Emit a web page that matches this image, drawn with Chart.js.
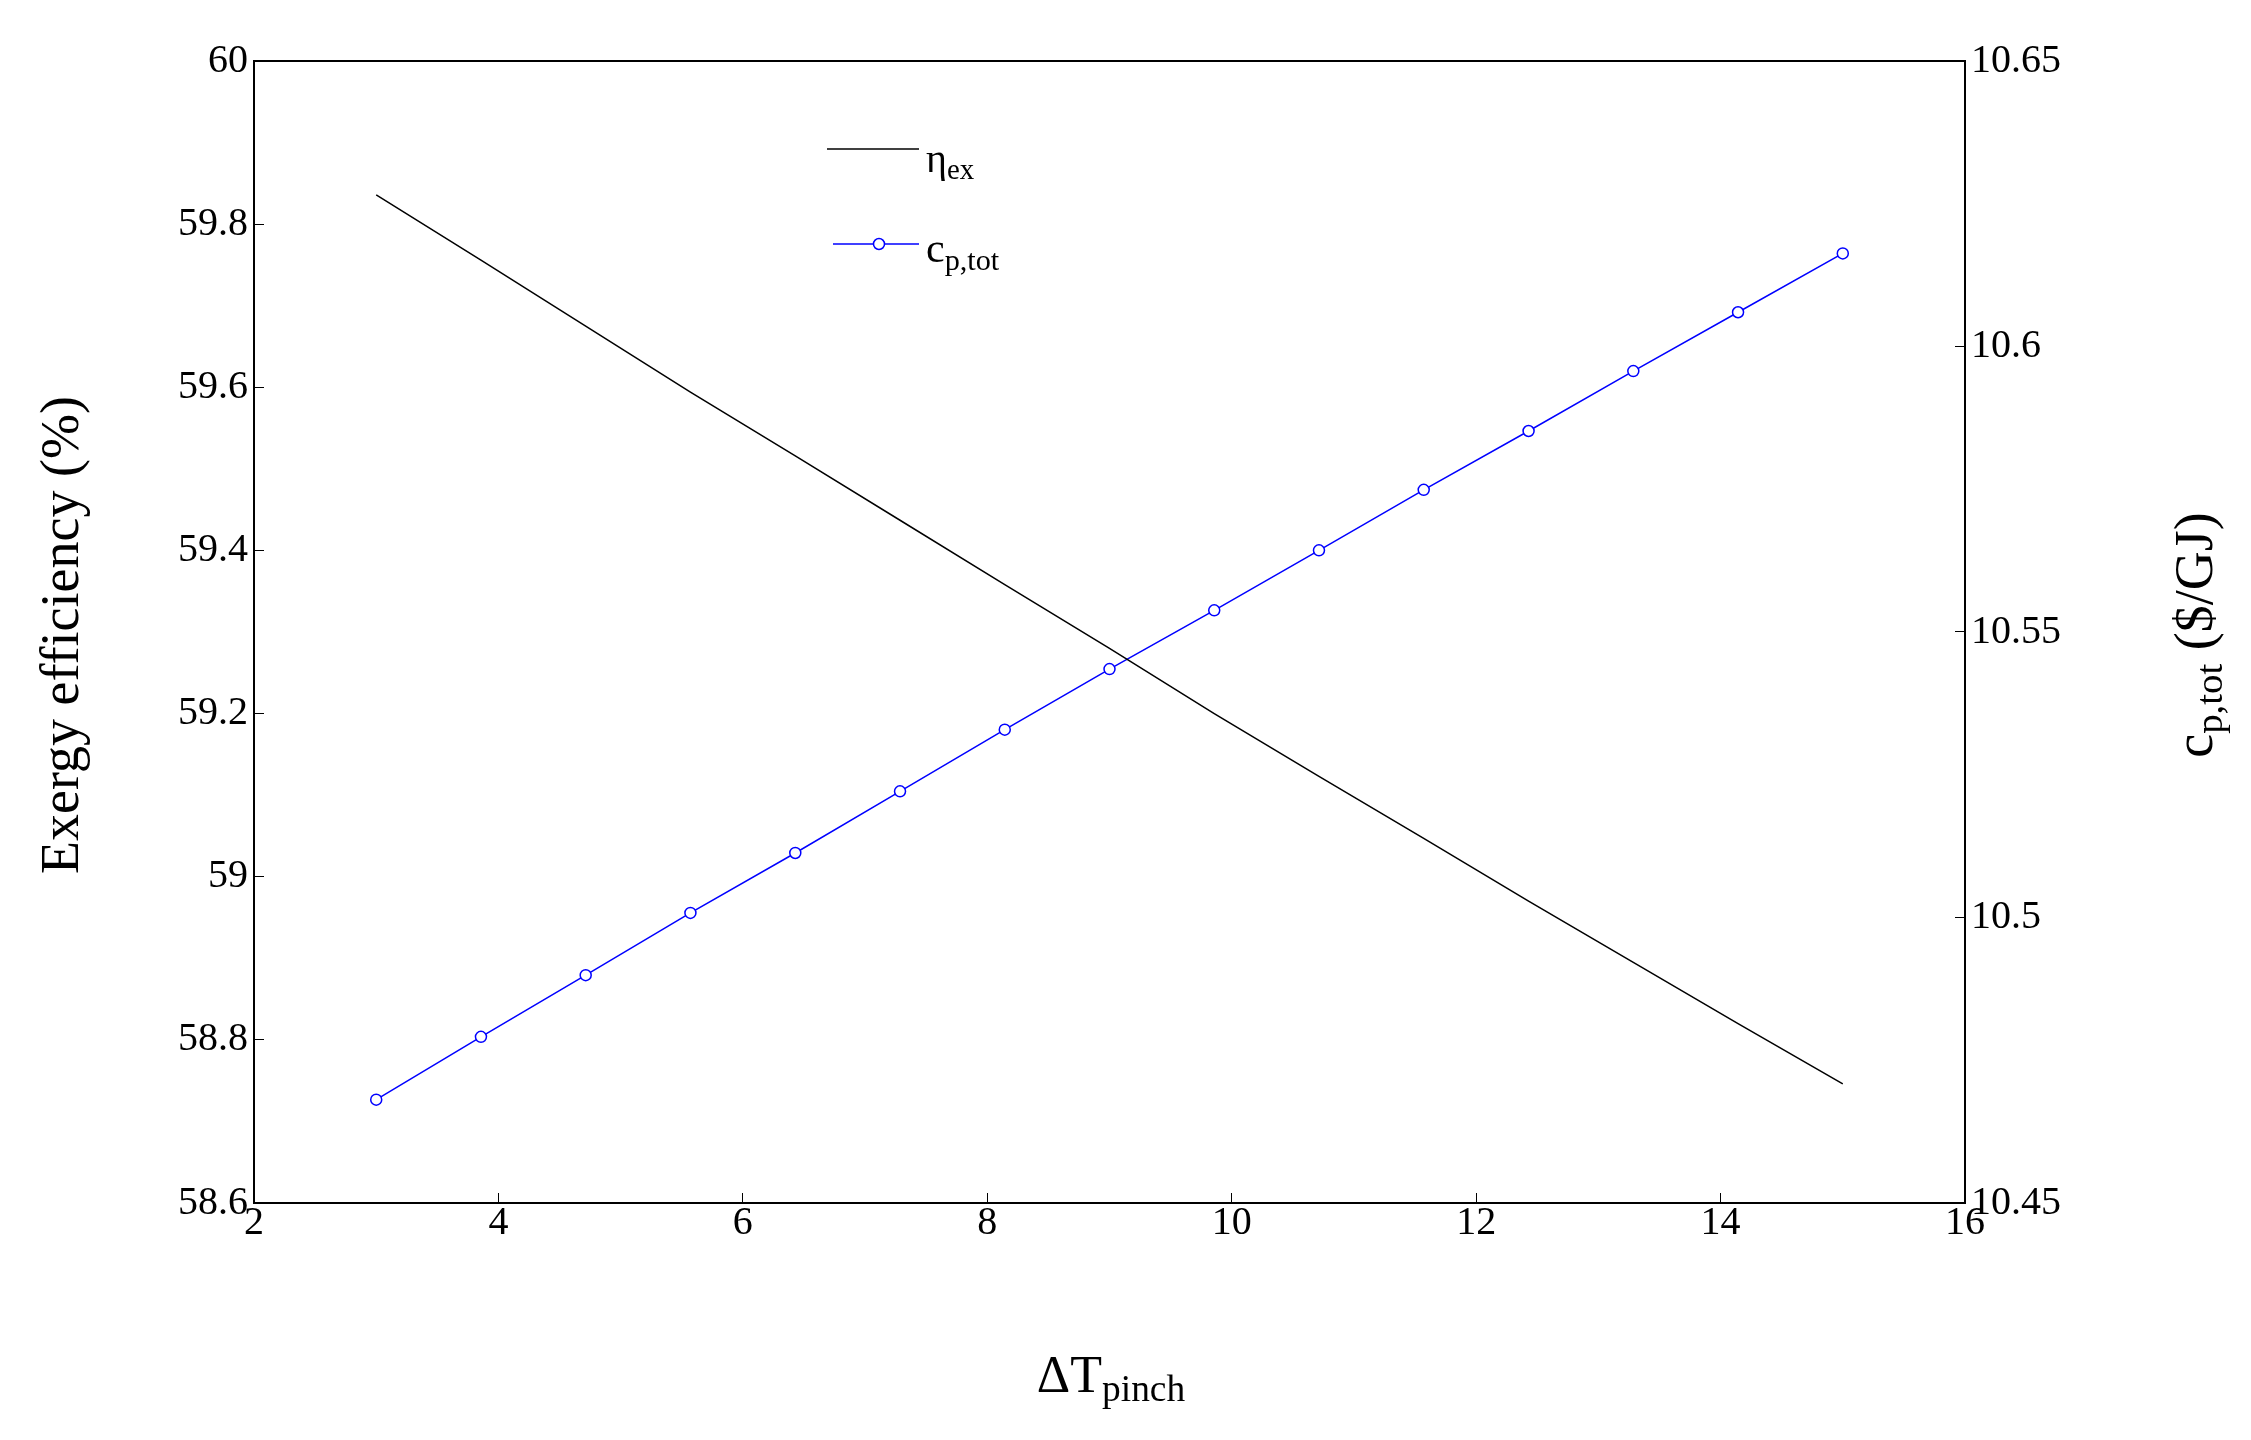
<!DOCTYPE html>
<html>
<head>
<meta charset="utf-8">
<script src="https://cdn.jsdelivr.net/npm/chart.js@4/dist/chart.umd.min.js"></script>
<style>
  html, body { margin: 0; padding: 0; background: #fff; }
  #wrap { width: 2251px; height: 1440px; }
</style>
</head>
<body>
<div id="wrap"><canvas id="c"></canvas></div>
<script>
// data
const dT = [3, 3.857, 4.714, 5.571, 6.429, 7.286, 8.143, 9, 9.857, 10.714, 11.571, 12.429, 13.286, 14.143, 15];
const etaEx = [59.836, 59.756, 59.675, 59.594, 59.516, 59.437, 59.358, 59.280, 59.200, 59.123, 59.047, 58.970, 58.895, 58.820, 58.746];
const cpTot = [10.4681, 10.4791, 10.4899, 10.5008, 10.5113, 10.5221, 10.5329, 10.5435, 10.5538, 10.5643, 10.5749, 10.5852, 10.5957, 10.6060, 10.6163];

const SERIF = "'Liberation Serif', 'DejaVu Serif', serif";

// text with a subscript part, drawn left-to-right from x
function subText(ctx, x, y, main, sub, size, align) {
    ctx.font = `${size}px ${SERIF}`;
    const w1 = ctx.measureText(main).width;
    ctx.font = `${size * 0.72}px ${SERIF}`;
    const w2 = ctx.measureText(sub).width;
    let start = x;
    if (align === "center") start = x - (w1 + w2) / 2;
    ctx.textAlign = "left";
    ctx.textBaseline = "alphabetic";
    ctx.font = `${size}px ${SERIF}`;
    ctx.fillText(main, start, y);
    ctx.font = `${size * 0.72}px ${SERIF}`;
    ctx.fillText(sub, start + w1, y + size * 0.18);
    return w1 + w2;
}

const decor = {
    id: "decor",
    afterDraw(chart) {
        const { ctx, chartArea: a } = chart;
        ctx.save();
        ctx.strokeStyle = "#000";
        ctx.lineWidth = 2;
        ctx.strokeRect(a.left, a.top, a.right - a.left, a.bottom - a.top);
        ctx.fillStyle = "#000";

        // axis titles
        subText(ctx, 1111, 1392, "ΔT", "pinch", 52, "center");

        ctx.save();
        ctx.translate(78, 635);
        ctx.rotate(-Math.PI / 2);
        ctx.font = `54px ${SERIF}`;
        ctx.textAlign = "center";
        ctx.fillText("Exergy efficiency (%)", 0, 0);
        ctx.restore();

        ctx.save();
        ctx.translate(2212, 635);
        ctx.rotate(-Math.PI / 2);
        const parts = ["c", "p,tot", " ($/GJ)"];
        ctx.font = `54px ${SERIF}`; const w1 = ctx.measureText(parts[0]).width;
        ctx.font = `${54 * 0.72}px ${SERIF}`; const w2 = ctx.measureText(parts[1]).width;
        ctx.font = `54px ${SERIF}`; const w3 = ctx.measureText(parts[2]).width;
        let sx = -(w1 + w2 + w3) / 2;
        ctx.textAlign = "left";
        ctx.fillText(parts[0], sx, 0);
        ctx.font = `${54 * 0.72}px ${SERIF}`;
        ctx.fillText(parts[1], sx + w1, 10);
        ctx.font = `54px ${SERIF}`;
        ctx.fillText(parts[2], sx + w1 + w2, 0);
        ctx.restore();

        // legend
        ctx.lineWidth = 1.5;
        ctx.strokeStyle = "#000";
        ctx.beginPath(); ctx.moveTo(827, 149); ctx.lineTo(919, 149); ctx.stroke();
        subText(ctx, 926, 172, "η", "ex", 40);
        ctx.strokeStyle = "#0000ff";
        ctx.beginPath(); ctx.moveTo(833, 244); ctx.lineTo(919, 244); ctx.stroke();
        ctx.fillStyle = "#fff";
        ctx.beginPath(); ctx.arc(879, 244, 5.5, 0, Math.PI * 2); ctx.fill(); ctx.stroke();
        ctx.fillStyle = "#000";
        subText(ctx, 926, 262, "c", "p,tot", 42);
        ctx.restore();
    }
};

const tickFont = { family: SERIF, size: 40 };

new Chart(document.getElementById("c"), {
    type: "line",
    data: {
        labels: dT,
        datasets: [
            {
                label: "ηex",
                data: dT.map((x, i) => ({ x, y: etaEx[i] })),
                yAxisID: "y",
                borderColor: "#000",
                borderWidth: 1.5,
                pointRadius: 0,
                tension: 0,
            },
            {
                label: "cp,tot",
                data: dT.map((x, i) => ({ x, y: cpTot[i] })),
                yAxisID: "y2",
                borderColor: "#0000ff",
                borderWidth: 1.5,
                pointRadius: 5.5,
                pointBorderWidth: 1.5,
                pointBackgroundColor: "#fff",
                pointBorderColor: "#0000ff",
                tension: 0,
            }
        ]
    },
    options: {
        responsive: true, maintainAspectRatio: false, animation: false,
        layout: { padding: { top: 61, left: 0, right: 0, bottom: 0 } },
        plugins: { legend: { display: false }, tooltip: { enabled: false } },
        scales: {
            x: {
                type: "linear", min: 2, max: 16,
                ticks: { stepSize: 2, color: "#000", font: tickFont, padding: 6 },
                grid: { drawOnChartArea: false, tickLength: -10, color: "#000" },
                border: { display: false },
                afterFit: s => { s.height = 237; }
            },
            y: {
                position: "left", min: 58.6, max: 60,
                ticks: { stepSize: 0.2, color: "#000", font: tickFont, padding: 16,
                    callback: v => +v.toFixed(1) + "" },
                grid: { drawOnChartArea: false, tickLength: -10, color: "#000" },
                border: { display: false },
                afterFit: s => { s.width = 254; }
            },
            y2: {
                position: "right", min: 10.45, max: 10.65,
                ticks: { stepSize: 0.05, color: "#000", font: tickFont, padding: 16,
                    callback: v => +v.toFixed(2) + "" },
                grid: { drawOnChartArea: false, tickLength: -10, color: "#000" },
                border: { display: false },
                afterFit: s => { s.width = 286; }
            }
        }
    },
    plugins: [decor]
});
</script>
</body>
</html>
